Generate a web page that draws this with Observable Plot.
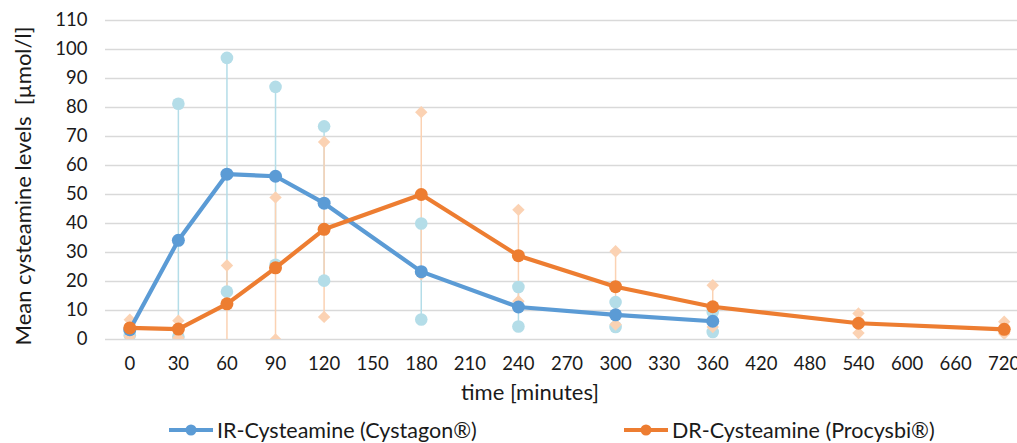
<!DOCTYPE html>
<html>
<head>
<meta charset="utf-8">
<script src="https://cdn.jsdelivr.net/npm/d3@7"></script>
<script src="https://cdn.jsdelivr.net/npm/@observablehq/plot@0.6"></script>
<style>
  html, body { margin: 0; padding: 0; background: #fff; overflow: hidden; }
  #wrap { position: relative; width: 1017px; height: 443px; font-family: Lato, "Open Sans", sans-serif; }
  .leg { position: absolute; top: 417px; display: flex; align-items: center; font-size: 21.5px; color: #1a1a1a; white-space: nowrap; }
  .leg svg { margin-right: 3px; }
  #ylab { position: absolute; left: 22px; top: 186px; font-size: 22px; color: #1a1a1a; white-space: pre;
          transform: translate(-50%, -50%) rotate(-90deg); }
</style>
</head>
<body>
<div id="wrap"></div>
<script>
// ---- data ----
const timeTicks = [0, 30, 60, 90, 120, 150, 180, 210, 240, 270, 300, 330, 360, 420, 480, 540, 600, 660, 720];
const yTicks = [0, 10, 20, 30, 40, 50, 60, 70, 80, 90, 100, 110];

const irTimes = [0, 30, 60, 90, 120, 180, 240, 300, 360];
const irMean  = [3.4, 34.2, 57.0, 56.3, 47.0, 23.4, 11.2, 8.5, 6.3];
const irMin   = [1.5, 1.0, 16.5, 25.8, 20.3, 6.9, 4.5, 4.3, 2.6];
const irMax   = [3.0, 81.3, 97.1, 87.1, 73.5, 40.0, 18.1, 12.9, 9.5];

const drTimes = [0, 30, 60, 90, 120, 180, 240, 300, 360, 540, 720];
const drMean  = [4.0, 3.6, 12.3, 24.7, 38.0, 50.0, 28.9, 18.2, 11.3, 5.6, 3.5];
const drMin   = [1.0, 0.6, -2.0, 0.0, 7.8, 22.5, 13.2, 5.2, 4.3, 2.2, 2.0];
const drMax   = [6.8, 6.5, 25.5, 49.0, 68.1, 78.4, 44.7, 30.4, 18.7, 9.0, 6.1];

const seriesNames = ["IR-Cysteamine (Cystagon®)", "DR-Cysteamine (Procysbi®)"];
const xLabel = "time [minutes]";
const yLabel = "Mean cysteamine levels  [µmol/l]";

const blue = "#5b9bd5", orange = "#ed7d31", lightBlue = "#b4dde8", peach = "#fbd2b3";

// ---- tables ----
const irRows = irTimes.map((t, i) => ({t, mean: irMean[i], min: irMin[i], max: irMax[i]}));
const drRows = drTimes.map((t, i) => ({t, mean: drMean[i], min: drMin[i], max: drMax[i]}));
const irExt = irRows.flatMap(d => [{t: d.t, v: d.min}, {t: d.t, v: d.max}]);
const drExt = drRows.flatMap(d => [{t: d.t, v: d.min}, {t: d.t, v: d.max}]);

const chart = Plot.plot({
  width: 1017,
  height: 417,
  marginLeft: 105,
  marginRight: -11,
  marginTop: 20,
  marginBottom: 78,
  style: {fontFamily: "Lato, 'Open Sans', sans-serif", fontSize: "18.5px", color: "#1a1a1a", background: "#fff"},
  x: {type: "point", domain: timeTicks, padding: 0.5, round: false},
  y: {domain: [0, 110]},
  marks: [
    Plot.ruleY(yTicks, {stroke: "#d9d9d9", strokeWidth: 1.6}),
    Plot.axisY(yTicks, {tickSize: 0, tickPadding: 18, label: null, fontSize: 18.5}),
    Plot.axisX(timeTicks, {tickSize: 0, tickPadding: 17, label: null, fontSize: 18.5}),
    Plot.ruleX(irRows, {x: "t", y1: "min", y2: "max", stroke: lightBlue, strokeWidth: 1.5, clip: true}),
    Plot.ruleX(drRows, {x: "t", y1: "min", y2: "max", stroke: peach, strokeWidth: 1.5, clip: true}),
    Plot.dot(irExt, {x: "t", y: "v", r: 6.3, fill: lightBlue, clip: true}),
    Plot.dot(drExt, {x: "t", y: "v", r: 5.6, symbol: "diamond2", fill: peach, clip: true}),
    Plot.line(irRows, {x: "t", y: "mean", stroke: blue, strokeWidth: 4.2}),
    Plot.dot(irRows, {x: "t", y: "mean", r: 6.5, fill: blue}),
    Plot.line(drRows, {x: "t", y: "mean", stroke: orange, strokeWidth: 4.2}),
    Plot.dot(drRows, {x: "t", y: "mean", r: 6.5, fill: orange}),
    Plot.text([xLabel], {frameAnchor: "bottom", dx: -37, dy: 60, fontSize: 22, fill: "#1a1a1a"})
  ]
});

const wrap = document.getElementById("wrap");
wrap.appendChild(chart);

const yl = document.createElement("div");
yl.id = "ylab";
yl.textContent = yLabel;
wrap.appendChild(yl);

const legLefts = [168, 623];
const legColors = [blue, orange];
seriesNames.forEach((name, i) => {
  const item = document.createElement("div");
  item.className = "leg";
  item.style.left = legLefts[i] + "px";
  item.innerHTML = `<svg width="46" height="14"><line x1="1" y1="7" x2="45" y2="7" stroke="${legColors[i]}" stroke-width="4"/><circle cx="23" cy="7" r="5.5" fill="${legColors[i]}"/></svg><span>${name}</span>`;
  wrap.appendChild(item);
});
</script>
</body>
</html>
